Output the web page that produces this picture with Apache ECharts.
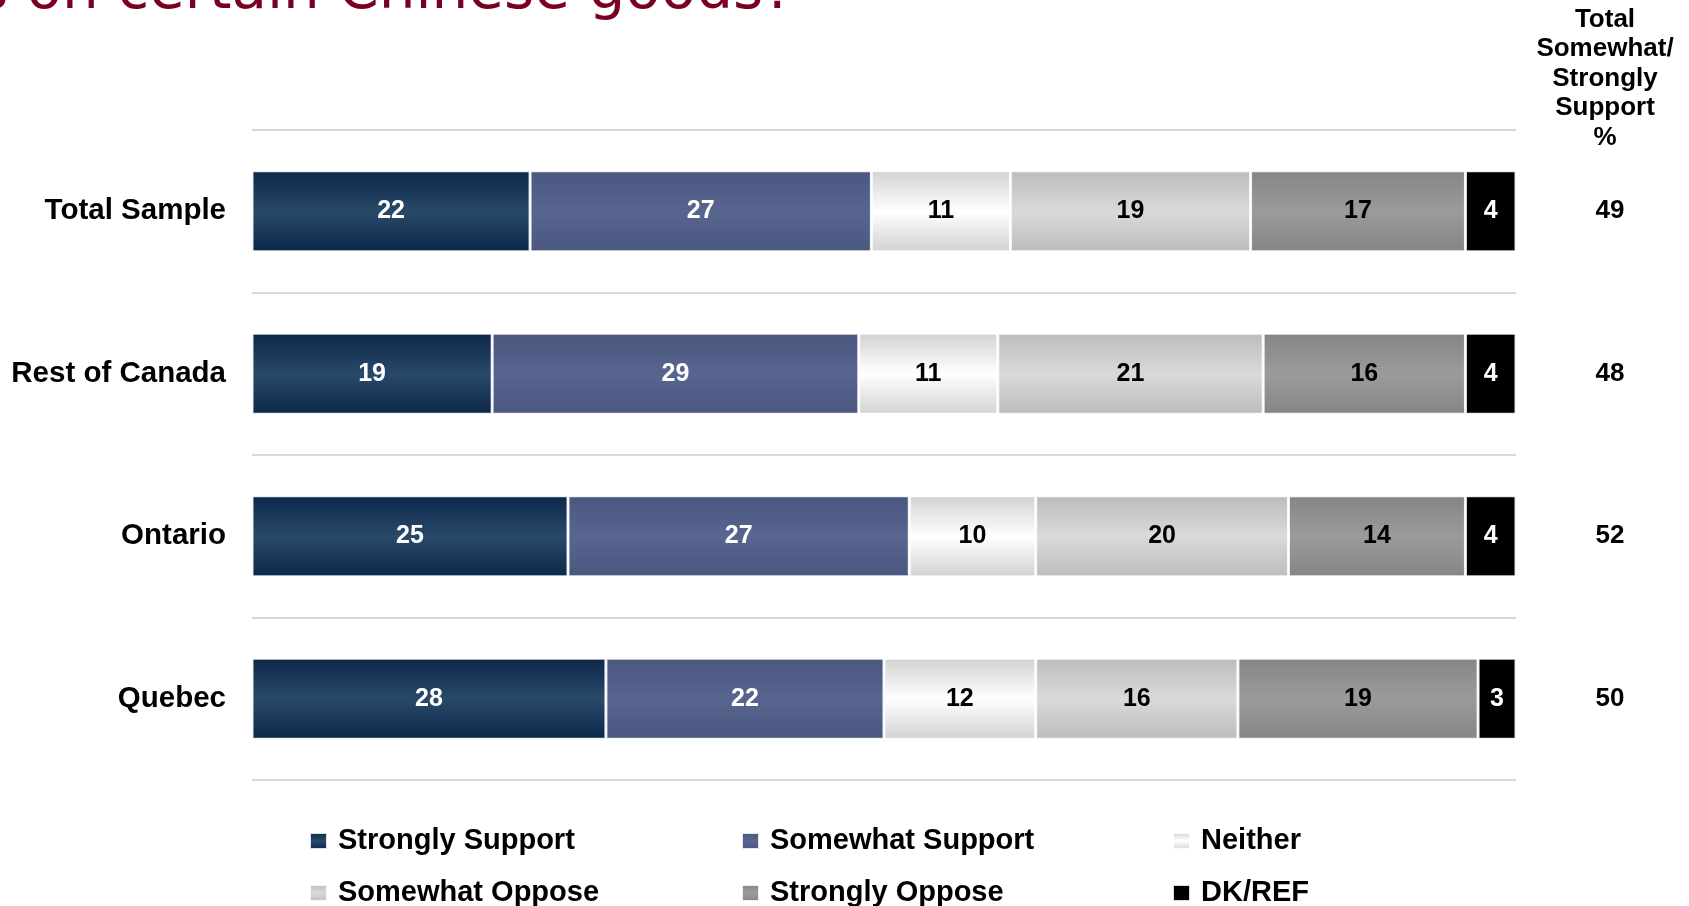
<!DOCTYPE html>
<html>
<head>
<meta charset="utf-8">
<title>Support for tariffs on Chinese goods</title>
<script src="https://cdn.jsdelivr.net/npm/echarts@6/dist/echarts.min.js"></script>
<style>
  html, body { margin: 0; padding: 0; background: #ffffff; }
  #chart { width: 1689px; height: 906px; }
</style>
</head>
<body>
<div id="chart"></div>
<script>
// Regions (top to bottom)
const categories = ['Total Sample', 'Rest of Canada', 'Ontario', 'Quebec'];

// Response shares, %
const strongSupport   = [22, 19, 25, 28];
const somewhatSupport = [27, 29, 27, 22];
const neitherSupport  = [11, 11, 10, 12];
const somewhatOppose  = [19, 21, 20, 16];
const strongOppose    = [17, 16, 14, 19];
const dkRef           = [4, 4, 4, 3];

// Net support column (somewhat + strongly support)
const totalSupport = [49, 48, 52, 50];

const FONT = '"Liberation Sans", Arial, sans-serif';

function vGrad(edge, mid) {
  return new echarts.graphic.LinearGradient(0, 0, 0, 1, [
    { offset: 0, color: edge },
    { offset: 0.5, color: mid },
    { offset: 1, color: edge }
  ]);
}

const segments = [
  { name: 'Strongly Support', data: strongSupport,   color: vGrad('#0b2649', '#2a4969'), text: '#ffffff' },
  { name: 'Somewhat Support', data: somewhatSupport, color: vGrad('#4a5880', '#57658f'), text: '#ffffff' },
  { name: 'Neither',          data: neitherSupport,  color: vGrad('#d2d2d2', '#ffffff'), text: '#000000' },
  { name: 'Somewhat Oppose',  data: somewhatOppose,  color: vGrad('#bcbcbc', '#dadada'), text: '#000000' },
  { name: 'Strongly Oppose',  data: strongOppose,    color: vGrad('#858585', '#9b9b9b'), text: '#000000' },
  { name: 'DK/REF',           data: dkRef,           color: '#000000',                   text: '#ffffff' }
];

const barSeries = segments.map(s => ({
  name: s.name,
  type: 'bar',
  stack: 'all',
  barWidth: 81,
  data: s.data,
  itemStyle: { color: s.color, borderColor: 'rgba(255,255,255,0.85)', borderWidth: 1.5 },
  label: {
    show: true,
    position: 'inside',
    color: s.text,
    fontFamily: FONT,
    fontWeight: 'bold',
    fontSize: 25
  },
  emphasis: { disabled: true }
}));

const totalSeries = {
  name: 'Total support',
  type: 'scatter',
  symbolSize: 0,
  silent: true,
  itemStyle: { opacity: 1 },
  data: totalSupport.map((v, i) => ({ value: [100, i], total: v })),
  label: {
    show: true,
    position: 'inside',
    offset: [94, 0],
    align: 'center',
    verticalAlign: 'middle',
    formatter: p => String(p.data.total),
    color: '#000000',
    opacity: 1,
    fontFamily: FONT,
    fontWeight: 'bold',
    fontSize: 26
  },
  emphasis: { disabled: true }
};

const legendText = {
  color: '#000000',
  fontFamily: FONT,
  fontWeight: 'bold',
  fontSize: 29,
  lineHeight: 30,
  padding: [0, 0, 0, 6]
};

// One legend entry per slot: three columns, two rows
const legendSlots = [
  ['Strongly Support', 309, 826],
  ['Somewhat Support', 741, 826],
  ['Neither',          1172, 826],
  ['Somewhat Oppose',  309, 878],
  ['Strongly Oppose',  741, 878],
  ['DK/REF',           1172, 878]
];

const legends = legendSlots.map(([name, left, top]) => ({
  left: left,
  top: top,
  padding: 0,
  itemWidth: 17,
  itemHeight: 16,
  icon: 'rect',
  selectedMode: false,
  data: [name],
  textStyle: legendText
}));

const chart = echarts.init(document.getElementById('chart'), null, { renderer: 'canvas' });

chart.setOption({
  animation: false,
  backgroundColor: '#ffffff',
  grid: { left: 252, right: 173, top: 130, bottom: 126 },
  xAxis: {
    type: 'value',
    min: 0,
    max: 100,
    show: false
  },
  yAxis: {
    type: 'category',
    inverse: true,
    data: categories,
    axisLine: { show: false },
    axisTick: { show: false },
    splitLine: { show: true, lineStyle: { color: '#cdcdcd', width: 1.5 } },
    axisLabel: {
      margin: 26,
      color: '#000000',
      fontFamily: FONT,
      fontWeight: 'bold',
      fontSize: 29.5
    }
  },
  legend: legends,
  graphic: [
    {
      type: 'text',
      x: 794,
      y: -7.5,
      style: {
        text: 's on certain Chinese goods?',
        align: 'right',
        verticalAlign: 'middle',
        fill: '#7a0020',
        font: 'normal 58px "DejaVu Sans", sans-serif'
      }
    },
    {
      type: 'text',
      x: 1605,
      y: 5,
      style: {
        text: 'Total\nSomewhat/\nStrongly\nSupport\n%',
        align: 'center',
        verticalAlign: 'top',
        lineHeight: 29.5,
        fill: '#000000',
        font: 'bold 26px ' + FONT
      }
    }
  ],
  series: barSeries.concat([totalSeries])
});
</script>
</body>
</html>
